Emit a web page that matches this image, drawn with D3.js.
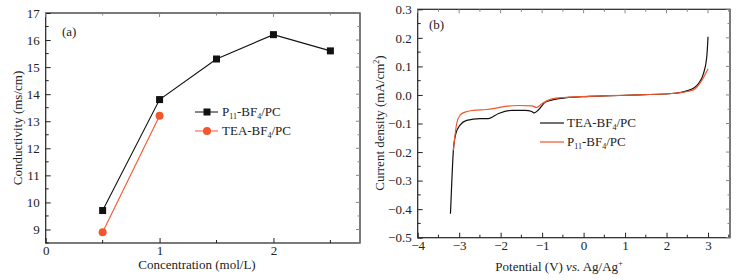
<!DOCTYPE html>
<html>
<head>
<meta charset="utf-8">
<script src="https://cdn.jsdelivr.net/npm/d3@7"></script>
<style>
  body { margin: 0; background: #fff; }
  svg { display: block; font-family: "Liberation Serif", "Times New Roman", serif; }
  .tick-label { font-size: 13px; fill: #222; font-family: "Liberation Serif", "Times New Roman", serif; }
  .axis-title { font-size: 13px; fill: #222; }
</style>
</head>
<body>
<svg id="chart" width="744" height="280"></svg>
<script>
// panel (a): conductivity vs concentration
var concP11 = [0.5, 1, 1.5, 2, 2.5];
var condP11 = [9.7, 13.8, 15.3, 16.2, 15.6];
var concTEA = [0.5, 1];
var condTEA = [8.9, 13.2];
var aXTicks = [0, 1, 2];
var aYTicks = [9, 10, 11, 12, 13, 14, 15, 16, 17];

// panel (b): linear sweep, current density vs potential
var potTEA = [-3.21, -3.18, -3.14, -3.08, -2.98, -2.82, -2.5, -2.3, -2.05, -1.73, -1.41, -1.25, -1.19, -1.08, -0.92, -0.6, 0.13, 1.0, 2.13, 2.53, 2.77, 2.89, 2.97, 3.0];
var curTEA = [-0.416, -0.311, -0.194, -0.135, -0.106, -0.089, -0.083, -0.083, -0.065, -0.054, -0.054, -0.058, -0.063, -0.051, -0.025, -0.013, -0.005, -0.001, 0.005, 0.016, 0.04, 0.075, 0.133, 0.204];
var potP11 = [-3.14, -3.06, -2.98, -2.86, -2.66, -2.34, -2.21, -1.89, -1.57, -1.25, -1.13, -1.0, -0.76, -0.5, 0.13, 1.0, 2.13, 2.5, 2.69, 2.85, 3.0];
var curP11 = [-0.194, -0.1, -0.071, -0.06, -0.054, -0.051, -0.049, -0.04, -0.037, -0.038, -0.044, -0.03, -0.014, -0.009, -0.005, -0.001, 0.005, 0.012, 0.022, 0.051, 0.092];
var bXTicks = [-4, -3, -2, -1, 0, 1, 2, 3];
var bYTicks = [-0.5, -0.4, -0.3, -0.2, -0.1, 0.0, 0.1, 0.2, 0.3];

var red = "#f2562a";
var svg = d3.select("#chart");

function zip(xs, ys) {
  return xs.map(function (x, i) { return { x: x, y: ys[i] }; });
}

// frame + inward ticks on all four sides
function drawFrame(g, x, y, xTicks, yTicks, xMinor, yMinor, xFmt, yFmt) {
  var x0 = x.range()[0], x1 = x.range()[1], y0 = y.range()[0], y1 = y.range()[1];
  g.append("rect")
    .attr("x", x0).attr("y", y1)
    .attr("width", x1 - x0).attr("height", y0 - y1)
    .attr("fill", "none").attr("stroke", "#222").attr("stroke-width", 1.2);

  var bottom = g.append("g").attr("transform", "translate(0," + y0 + ")")
    .call(d3.axisBottom(x).tickValues(xTicks).tickFormat(xFmt).tickSizeInner(-5).tickSizeOuter(0).tickPadding(3));
  var left = g.append("g").attr("transform", "translate(" + x0 + ",0)")
    .call(d3.axisLeft(y).tickValues(yTicks).tickFormat(yFmt).tickSizeInner(-5).tickSizeOuter(0).tickPadding(6));
  [bottom, left].forEach(function (a) {
    a.attr("font-family", null).attr("font-size", null);
    a.select(".domain").remove();
    a.selectAll(".tick line").attr("stroke", "#222");
    a.selectAll(".tick text").attr("class", "tick-label").attr("fill", null);
  });
  bottom.selectAll(".tick text").attr("dy", "0.71em");

  // minor ticks bottom / left
  g.selectAll(null).data(xMinor).enter().append("line")
    .attr("x1", x).attr("x2", x).attr("y1", y0).attr("y2", y0 - 3)
    .attr("stroke", "#222");
  g.selectAll(null).data(yMinor).enter().append("line")
    .attr("y1", y).attr("y2", y).attr("x1", x0).attr("x2", x0 + 3)
    .attr("stroke", "#222");

  // mirrored ticks top / right, fainter
  var allX = xTicks.concat(xMinor), allY = yTicks.concat(yMinor);
  g.selectAll(null).data(allX).enter().append("line")
    .attr("x1", x).attr("x2", x).attr("y1", y1).attr("y2", function (d) { return y1 + (xTicks.indexOf(d) >= 0 ? 4 : 2.5); })
    .attr("stroke", "#888");
  g.selectAll(null).data(allY).enter().append("line")
    .attr("y1", y).attr("y2", y).attr("x1", x1).attr("x2", function (d) { return x1 - (yTicks.indexOf(d) >= 0 ? 4 : 2.5); })
    .attr("stroke", "#888");
}

// label with sub/superscript pieces: parts = [[text, kind], ...]
function richText(sel, parts) {
  parts.forEach(function (p) {
    var t = sel.append("tspan").text(p[0]);
    if (p[1] === "sub") t.attr("font-size", "8px").attr("baseline-shift", "-3");
    if (p[1] === "sup") t.attr("font-size", "8px").attr("baseline-shift", "5");
    if (p[1] === "it") t.attr("font-style", "italic");
  });
}

// ---------------- panel (a) ----------------
(function () {
  var x = d3.scaleLinear().domain([0, 2.76]).range([45.7, 360]);
  var y = d3.scaleLinear().domain([8.5, 17]).range([243, 13]);
  var g = svg.append("g");

  drawFrame(g, x, y, aXTicks, aYTicks, [0.5, 1.5, 2.5],
    [8.5, 9.5, 10.5, 11.5, 12.5, 13.5, 14.5, 15.5, 16.5], d3.format("d"), d3.format("d"));

  var line = d3.line().x(function (d) { return x(d.x); }).y(function (d) { return y(d.y); });
  var p11 = zip(concP11, condP11), tea = zip(concTEA, condTEA);

  g.append("path").datum(p11).attr("d", line)
    .attr("fill", "none").attr("stroke", "#111").attr("stroke-width", 1.1);
  g.append("path").datum(tea).attr("d", line)
    .attr("fill", "none").attr("stroke", red).attr("stroke-width", 1.1);
  g.selectAll(".sq").data(p11).enter().append("rect")
    .attr("x", function (d) { return x(d.x) - 3.5; })
    .attr("y", function (d) { return y(d.y) - 3.5; })
    .attr("width", 7).attr("height", 7).attr("fill", "#111");
  g.selectAll(".dot").data(tea).enter().append("circle")
    .attr("cx", function (d) { return x(d.x); })
    .attr("cy", function (d) { return y(d.y); })
    .attr("r", 4).attr("fill", red);

  // legend
  g.append("line").attr("x1", 195).attr("x2", 218).attr("y1", 112).attr("y2", 112).attr("stroke", "#111");
  g.append("rect").attr("x", 203.5).attr("y", 108.5).attr("width", 7).attr("height", 7).attr("fill", "#111");
  richText(g.append("text").attr("class", "axis-title").attr("x", 222).attr("y", 116),
    [["P"], ["11", "sub"], ["-BF"], ["4", "sub"], ["/PC"]]);
  g.append("line").attr("x1", 195).attr("x2", 218).attr("y1", 131).attr("y2", 131).attr("stroke", red);
  g.append("circle").attr("cx", 207).attr("cy", 131).attr("r", 4).attr("fill", red);
  richText(g.append("text").attr("class", "axis-title").attr("x", 222).attr("y", 135),
    [["TEA-BF"], ["4", "sub"], ["/PC"]]);

  g.append("text").attr("class", "axis-title").attr("x", 62).attr("y", 36).text("(a)");
  g.append("text").attr("class", "axis-title").attr("x", 197).attr("y", 269)
    .attr("text-anchor", "middle").text("Concentration (mol/L)");
  g.append("text").attr("class", "axis-title")
    .attr("transform", "translate(22,128) rotate(-90)")
    .attr("text-anchor", "middle").text("Conductivity (ms/cm)");
})();

// ---------------- panel (b) ----------------
(function () {
  var x = d3.scaleLinear().domain([-4, 3.53]).range([417.7, 730]);
  var y = d3.scaleLinear().domain([-0.5, 0.3]).range([237.7, 9.3]);
  var g = svg.append("g");

  var xMinor = d3.range(-3.5, 3.6, 1);
  var yMinor = d3.range(-0.45, 0.3, 0.1);
  drawFrame(g, x, y, bXTicks, bYTicks, xMinor, yMinor, d3.format("d"), d3.format(".1f"));

  var line = d3.line().curve(d3.curveMonotoneX)
    .x(function (d) { return x(d.x); }).y(function (d) { return y(d.y); });

  g.append("path").datum(zip(potTEA, curTEA)).attr("d", line)
    .attr("fill", "none").attr("stroke", "#111").attr("stroke-width", 1.2);
  g.append("path").datum(zip(potP11, curP11)).attr("d", line)
    .attr("fill", "none").attr("stroke", red).attr("stroke-width", 1.2);

  // legend
  g.append("line").attr("x1", 540).attr("x2", 564).attr("y1", 123).attr("y2", 123).attr("stroke", "#111").attr("stroke-width", 1.2);
  richText(g.append("text").attr("class", "axis-title").attr("x", 567).attr("y", 127),
    [["TEA-BF"], ["4", "sub"], ["/PC"]]);
  g.append("line").attr("x1", 540).attr("x2", 564).attr("y1", 142).attr("y2", 142).attr("stroke", red).attr("stroke-width", 1.2);
  richText(g.append("text").attr("class", "axis-title").attr("x", 567).attr("y", 146),
    [["P"], ["11", "sub"], ["-BF"], ["4", "sub"], ["/PC"]]);

  g.append("text").attr("class", "axis-title").attr("x", 429).attr("y", 29).text("(b)");
  richText(g.append("text").attr("class", "axis-title").attr("x", 559).attr("y", 271).attr("text-anchor", "middle"),
    [["Potential (V) "], ["vs.", "it"], [" Ag/Ag"], ["+", "sup"]]);
  richText(g.append("text").attr("class", "axis-title")
    .attr("transform", "translate(384,123) rotate(-90)").attr("text-anchor", "middle"),
    [["Current density (mA/cm"], ["2", "sup"], [")"]]);
})();
</script>
</body>
</html>
